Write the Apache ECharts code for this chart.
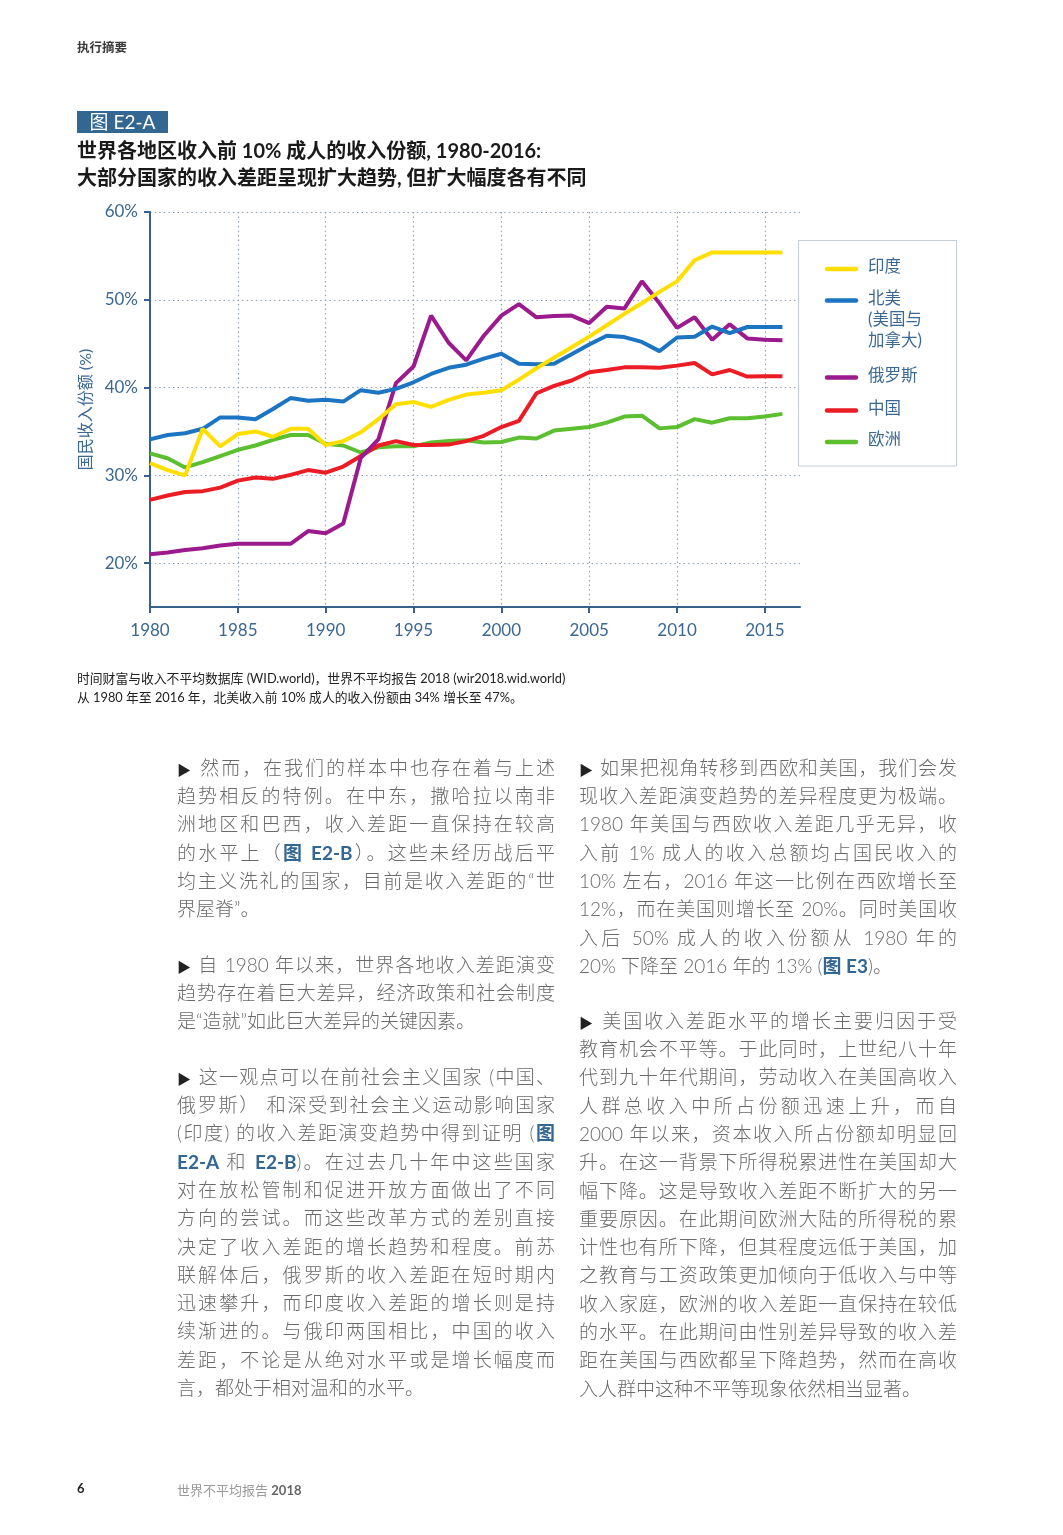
<!DOCTYPE html>
<html>
<head>
<meta charset="utf-8">
<script src="https://cdn.jsdelivr.net/npm/echarts@6/dist/echarts.min.js"></script>
<style>
  html, body { margin: 0; padding: 0; background: #fff; }
  body { width: 1063px; height: 1535px; position: relative; overflow: hidden;
         font-family: Lato, "Noto Sans CJK SC", sans-serif; }
  #c { position: absolute; left: 0; top: 0; width: 1063px; height: 1535px; }
  .t { position: absolute; z-index: 2; white-space: nowrap; }
  .hdr { left: 77px; top: 37px; font-size: 12.5px; font-weight: bold; color: #3a3a3a; }
  .fig { left: 77px; top: 111px; height: 22px; width: 91px; background: #336791; color: #fff;
         font-size: 19px; line-height: 22px; text-align: center; }
  .ttl { left: 77px; font-size: 20px; font-weight: bold; color: #1a1a1a; line-height: 24px; }
  .src { left: 77px; font-size: 12.8px; color: #222; line-height: 16px; }
  .para { position: absolute; z-index: 2; width: 378px; font-size: 19px; line-height: 28.3px;
          color: #6a6a6a; font-weight: 300; }
  .ln { text-align: justify; text-align-last: justify; white-space: nowrap; height: 28.3px; }
  .ln.last { text-align-last: left; }
  .ln b { color: #336791; font-weight: bold; }
  .tri { color: #222; font-size: 14px; }
  .foot { top: 1480px; font-size: 13px; }
</style>
</head>
<body>
<div id="c"></div>

<div class="t hdr">执行摘要</div>
<div class="t fig">图 E2-A</div>
<div class="t ttl" style="top:138px;">世界各地区收入前 10% 成人的收入份额, 1980-2016:</div>
<div class="t ttl" style="top:165px;">大部分国家的收入差距呈现扩大趋势, 但扩大幅度各有不同</div>

<div class="t src" style="top:670px;">时间财富与收入不平均数据库 (WID.world)，世界不平均报告 2018 (wir2018.wid.world)</div>
<div class="t src" style="top:689px;">从 1980 年至 2016 年，北美收入前 10% 成人的收入份额由 34% 增长至 47%。</div>

<div class="para" style="left:177px; top:753.8px;">
  <div class="ln"><span class="tri">▶</span> 然而，在我们的样本中也存在着与上述</div>
  <div class="ln">趋势相反的特例。在中东，撒哈拉以南非</div>
  <div class="ln">洲地区和巴西，收入差距一直保持在较高</div>
  <div class="ln">的水平上（<b>图 E2-B</b>）。这些未经历战后平</div>
  <div class="ln">均主义洗礼的国家，目前是收入差距的“世</div>
  <div class="ln last">界屋脊”。</div>
</div>
<div class="para" style="left:177px; top:950.8px;">
  <div class="ln"><span class="tri">▶</span> 自 1980 年以来，世界各地收入差距演变</div>
  <div class="ln">趋势存在着巨大差异，经济政策和社会制度</div>
  <div class="ln last">是“造就”如此巨大差异的关键因素。</div>
</div>
<div class="para" style="left:177px; top:1062.8px;">
  <div class="ln"><span class="tri">▶</span> 这一观点可以在前社会主义国家 (中国、</div>
  <div class="ln">俄罗斯） 和深受到社会主义运动影响国家</div>
  <div class="ln">(印度) 的收入差距演变趋势中得到证明 (<b>图</b></div>
  <div class="ln"><b>E2-A</b> 和 <b>E2-B</b>)。在过去几十年中这些国家</div>
  <div class="ln">对在放松管制和促进开放方面做出了不同</div>
  <div class="ln">方向的尝试。而这些改革方式的差别直接</div>
  <div class="ln">决定了收入差距的增长趋势和程度。前苏</div>
  <div class="ln">联解体后，俄罗斯的收入差距在短时期内</div>
  <div class="ln">迅速攀升，而印度收入差距的增长则是持</div>
  <div class="ln">续渐进的。与俄印两国相比，中国的收入</div>
  <div class="ln">差距，不论是从绝对水平或是增长幅度而</div>
  <div class="ln last">言，都处于相对温和的水平。</div>
</div>

<div class="para" style="left:579px; top:753.8px;">
  <div class="ln"><span class="tri">▶</span> 如果把视角转移到西欧和美国，我们会发</div>
  <div class="ln">现收入差距演变趋势的差异程度更为极端。</div>
  <div class="ln">1980 年美国与西欧收入差距几乎无异，收</div>
  <div class="ln">入前 1% 成人的收入总额均占国民收入的</div>
  <div class="ln">10% 左右，2016 年这一比例在西欧增长至</div>
  <div class="ln">12%，而在美国则增长至 20%。同时美国收</div>
  <div class="ln">入后 50% 成人的收入份额从 1980 年的</div>
  <div class="ln last">20% 下降至 2016 年的 13% (<b>图 E3</b>)。</div>
</div>
<div class="para" style="left:579px; top:1006.8px;">
  <div class="ln"><span class="tri">▶</span> 美国收入差距水平的增长主要归因于受</div>
  <div class="ln">教育机会不平等。于此同时，上世纪八十年</div>
  <div class="ln">代到九十年代期间，劳动收入在美国高收入</div>
  <div class="ln">人群总收入中所占份额迅速上升，而自</div>
  <div class="ln">2000 年以来，资本收入所占份额却明显回</div>
  <div class="ln">升。在这一背景下所得税累进性在美国却大</div>
  <div class="ln">幅下降。这是导致收入差距不断扩大的另一</div>
  <div class="ln">重要原因。在此期间欧洲大陆的所得税的累</div>
  <div class="ln">计性也有所下降，但其程度远低于美国，加</div>
  <div class="ln">之教育与工资政策更加倾向于低收入与中等</div>
  <div class="ln">收入家庭，欧洲的收入差距一直保持在较低</div>
  <div class="ln">的水平。在此期间由性别差异导致的收入差</div>
  <div class="ln">距在美国与西欧都呈下降趋势，然而在高收</div>
  <div class="ln last">入人群中这种不平等现象依然相当显著。</div>
</div>

<div class="t foot" style="left:77px; font-weight:bold; color:#222;">6</div>
<div class="t foot" style="left:177px; color:#9a9a9a;">世界不平均报告 <b style="color:#666;">2018</b></div>

<script>
// ---- data ----
var years = ['1980','1981','1982','1983','1984','1985','1986','1987','1988','1989',
             '1990','1991','1992','1993','1994','1995','1996','1997','1998','1999',
             '2000','2001','2002','2003','2004','2005','2006','2007','2008','2009',
             '2010','2011','2012','2013','2014','2015','2016','2017'];
var yTicks = [20, 30, 40, 50, 60];

var india = [31.4,30.6,30.0,35.3,33.3,34.7,35.0,34.4,35.3,35.3,
             33.45,33.9,34.9,36.4,38.1,38.35,37.8,38.6,39.2,39.4,
             39.7,40.9,42.2,43.4,44.6,45.8,47.1,48.4,49.6,50.9,
             52.1,54.5,55.4,55.4,55.4,55.4,55.4];
var northAmerica = [34.1,34.6,34.8,35.3,36.6,36.6,36.4,37.55,38.8,38.5,
             38.6,38.4,39.7,39.4,39.85,40.6,41.55,42.25,42.6,43.3,
             43.85,42.7,42.65,42.7,43.8,44.9,45.9,45.75,45.2,44.15,
             45.7,45.8,46.95,46.2,46.9,46.9,46.9];
var russia = [21.0,21.2,21.5,21.7,22.0,22.2,22.2,22.2,22.2,23.65,
             23.4,24.5,32.0,34.1,40.5,42.4,48.2,45.1,43.1,45.9,
             48.2,49.5,48.0,48.15,48.2,47.35,49.2,49.0,52.1,49.6,
             46.8,48.0,45.45,47.2,45.6,45.45,45.4];
var china = [27.2,27.7,28.1,28.2,28.6,29.4,29.75,29.6,30.05,30.6,
             30.3,31.0,32.2,33.4,33.9,33.45,33.45,33.5,33.9,34.5,
             35.5,36.2,39.35,40.2,40.8,41.75,42.0,42.3,42.3,42.25,
             42.5,42.8,41.5,42.0,41.25,41.3,41.3];
var europe = [32.5,31.95,30.9,31.5,32.2,32.9,33.4,34.05,34.6,34.6,
             33.6,33.4,32.6,33.2,33.3,33.3,33.75,33.9,34.0,33.75,
             33.8,34.3,34.2,35.1,35.3,35.5,36.0,36.7,36.8,35.35,
             35.5,36.4,36.0,36.5,36.5,36.7,37.0];

var seriesNames = ['印度', '北美\n(美国与\n加拿大)', '俄罗斯', '中国', '欧洲'];
var seriesColors = ['#FFDE00', '#1B75C2', '#9B1B8E', '#EC1C24', '#5CBF2F'];
var seriesData = [india, northAmerica, russia, china, europe];

// ---- chart ----
var FONT = 'Lato, "Noto Sans CJK SC", sans-serif';
var AXIS = '#35618c';
var TXT = '#3b6893';
var chart = echarts.init(document.getElementById('c'), null, { renderer: 'canvas' });

var series = seriesData.map(function (d, i) {
  return {
    name: seriesNames[i], type: 'line', data: d, symbol: 'none', smooth: false,
    lineStyle: { color: seriesColors[i], width: 4 }, itemStyle: { color: seriesColors[i] },
    z: 10 - i
  };
});

var legendTop = [269, 300.5, 377.5, 410.5, 442];
var graphics = [{
  type: 'rect', shape: { x: 798.5, y: 240.5, width: 158, height: 225.5 },
  style: { fill: '#fff', stroke: '#c3ced6', lineWidth: 1 }, z: 20
}];
seriesNames.forEach(function (n, i) {
  graphics.push({ type: 'line', shape: { x1: 827, y1: legendTop[i], x2: 856, y2: legendTop[i] },
    style: { stroke: seriesColors[i], lineWidth: 4.5, lineCap: 'round' }, z: 21 });
  graphics.push({ type: 'text', x: 868, y: legendTop[i] - 12.5,
    style: { text: n, font: '16.5px ' + FONT, fill: TXT, lineHeight: 21, verticalAlign: 'top' }, z: 21 });
});

chart.setOption({
  animation: false,
  grid: { left: 150, right: 263, top: 212, bottom: 928, containLabel: false },
  xAxis: {
    type: 'category', data: years, boundaryGap: false,
    axisLine: { lineStyle: { color: AXIS, width: 2 } },
    axisTick: { show: true, length: 6, interval: function (idx) { return idx % 5 === 0; },
                lineStyle: { color: AXIS, width: 2 } },
    axisLabel: { interval: function (idx) { return idx % 5 === 0; }, color: TXT,
                 fontSize: 17, fontFamily: FONT, margin: 15 },
    splitLine: { show: true, interval: function (idx) { return idx % 5 === 0 && idx > 0; },
                 lineStyle: { color: '#8a9fb3', width: 1.2, type: [1.4, 3.2] } }
  },
  yAxis: {
    type: 'value', min: 15, max: 60,
    name: '国民收入份额 (%)', nameLocation: 'middle', nameRotate: 90, nameGap: 55,
    nameTextStyle: { color: TXT, fontSize: 16, fontFamily: FONT },
    axisLine: { show: true, lineStyle: { color: AXIS, width: 2 } },
    axisTick: { show: true, length: 6, customValues: yTicks, lineStyle: { color: AXIS, width: 2 } },
    axisLabel: { customValues: yTicks, color: TXT, fontSize: 17, fontFamily: FONT, margin: 12,
                 formatter: function (v) { return v + '%'; } },
    splitLine: { show: true, lineStyle: { color: '#8a9fb3', width: 1.2, type: [1.4, 3.2] } }
  },
  graphic: graphics,
  series: series.slice().reverse()
});
</script>
</body>
</html>
